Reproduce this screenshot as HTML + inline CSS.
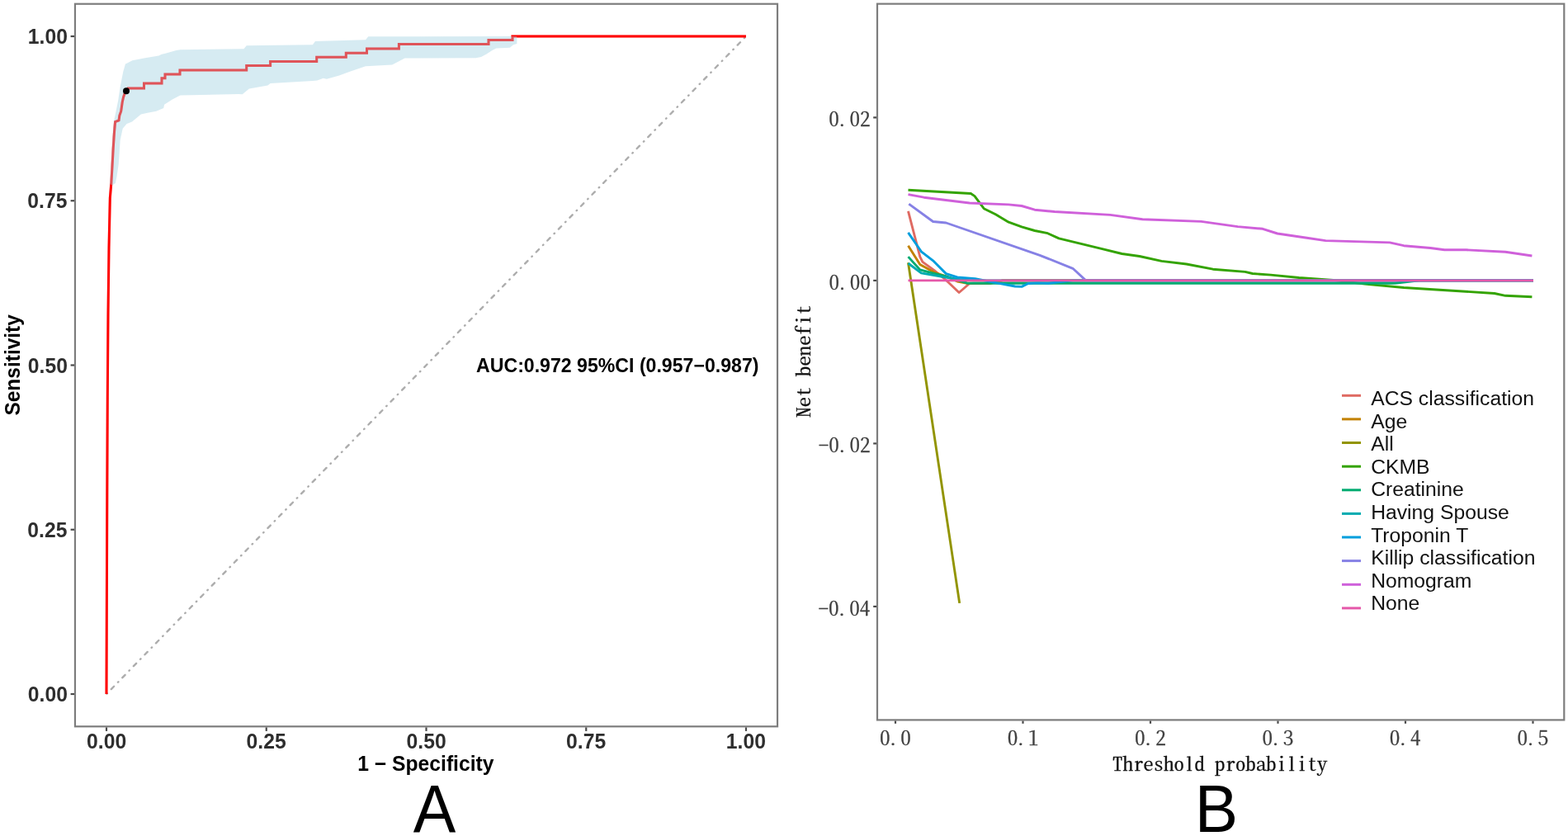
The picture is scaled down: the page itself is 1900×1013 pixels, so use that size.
<!DOCTYPE html><html><head><meta charset="utf-8"><title>ROC and decision curve</title><style>html,body{margin:0;padding:0;background:#fff;overflow:hidden;}svg{display:block;}</style></head><body>
<svg width="1900" height="1013" viewBox="0 0 1900 1013">
<rect x="0" y="0" width="1900" height="1013" fill="#fff"/>
<line x1="129.0" y1="841.0" x2="904.0" y2="44.0" stroke="#adadad" stroke-width="2.4" stroke-linecap="round" stroke-dasharray="0.6 7.08 4.67 7.09" stroke-dashoffset="-0.585"/>
<polyline points="129.0,841.0 129.4,720.0 129.8,600.0 130.3,480.0 131.0,380.0 132.0,300.0 133.3,240.0 134.8,222.5 136.0,202.0 137.2,180.0 138.5,160.0 139.6,147.5 144.0,146.0 144.8,140.0 146.7,134.7 148.2,124.0 149.5,118.0 151.0,113.5 153.0,110.3 155.0,107.0 174.5,107.0 174.5,101.0 196.0,101.0 196.0,94.7 200.0,94.7 200.0,89.9 218.0,89.9 218.0,85.0 298.7,85.0 298.7,79.6 327.6,79.6 327.6,74.6 383.7,74.6 383.7,69.2 419.3,69.2 419.3,64.2 444.5,64.2 444.5,58.9 483.4,58.9 483.4,53.4 592.0,53.4 592.0,48.6 621.0,48.6 621.0,44.0 904.0,44.0" fill="none" stroke="#ff0000" stroke-width="3" stroke-linejoin="miter"/>
<polygon points="133.0,223.0 134.2,202.0 135.4,180.0 136.7,160.0 137.9,147.5 140.5,135.0 143.1,122.2 145.8,104.4 149.3,86.7 152.0,77.5 154.2,76.5 160.4,73.3 167.0,72.0 174.6,70.6 192.4,67.5 196.0,65.8 199.5,65.0 213.7,60.9 218.4,60.2 295.5,59.3 298.7,55.3 378.9,54.2 382.0,50.0 443.0,48.2 446.3,44.3 626.4,44.0 626.4,44.0 626.4,53.0 622.0,54.2 617.8,57.7 601.3,58.6 596.0,61.2 589.5,65.5 583.0,69.0 576.5,70.3 490.5,70.5 475.2,78.5 443.0,80.3 423.9,86.7 411.0,91.5 395.8,95.8 391.8,94.7 384.3,97.5 378.9,97.9 327.6,101.1 324.4,103.4 301.9,107.5 293.7,114.2 289.0,114.0 218.4,115.6 208.8,120.4 199.1,126.8 198.2,131.1 189.3,134.7 178.7,136.8 170.8,138.5 160.0,147.5 153.6,149.9 148.7,155.8 145.7,169.6 143.7,199.0 141.5,214.0 139.8,222.0 136.0,224.5" fill="#add8e6" fill-opacity="0.5" stroke="none"/>
<polyline points="129.0,841.0 129.4,720.0 129.8,600.0 130.3,480.0 131.0,380.0 132.0,300.0 133.3,240.0 134.8,222.5 136.0,202.0 137.2,180.0 138.5,160.0 139.6,147.5 144.0,146.0 144.8,140.0 146.7,134.7 148.2,124.0 149.5,118.0 151.0,113.5 153.0,110.3 155.0,107.0 174.5,107.0 174.5,101.0 196.0,101.0 196.0,94.7 200.0,94.7 200.0,89.9 218.0,89.9 218.0,85.0 298.7,85.0 298.7,79.6 327.6,79.6 327.6,74.6 383.7,74.6 383.7,69.2 419.3,69.2 419.3,64.2 444.5,64.2 444.5,58.9 483.4,58.9 483.4,53.4 592.0,53.4 592.0,48.6 621.0,48.6 621.0,44.0 904.0,44.0" fill="none" stroke="#ff0000" stroke-opacity="0.22" stroke-width="3" stroke-linejoin="miter"/>
<circle cx="153" cy="110.3" r="4" fill="#000"/>
<rect x="90.95" y="4.74" width="851.10" height="875.56" fill="none" stroke="#7d7d7d" stroke-width="2.2"/>
<line x1="85.6" y1="841.00" x2="90" y2="841.00" stroke="#4a4a4a" stroke-width="2.2"/>
<line x1="129.00" y1="881.4" x2="129.00" y2="885.9" stroke="#4a4a4a" stroke-width="2.2"/>
<line x1="85.6" y1="641.75" x2="90" y2="641.75" stroke="#4a4a4a" stroke-width="2.2"/>
<line x1="322.75" y1="881.4" x2="322.75" y2="885.9" stroke="#4a4a4a" stroke-width="2.2"/>
<line x1="85.6" y1="442.50" x2="90" y2="442.50" stroke="#4a4a4a" stroke-width="2.2"/>
<line x1="516.50" y1="881.4" x2="516.50" y2="885.9" stroke="#4a4a4a" stroke-width="2.2"/>
<line x1="85.6" y1="243.25" x2="90" y2="243.25" stroke="#4a4a4a" stroke-width="2.2"/>
<line x1="710.25" y1="881.4" x2="710.25" y2="885.9" stroke="#4a4a4a" stroke-width="2.2"/>
<line x1="85.6" y1="44.00" x2="90" y2="44.00" stroke="#4a4a4a" stroke-width="2.2"/>
<line x1="904.00" y1="881.4" x2="904.00" y2="885.9" stroke="#4a4a4a" stroke-width="2.2"/>
<polyline points="1100.5,255.8 1114.8,311.1 1117.9,317.4 1132.1,327.7 1146.4,339.5 1162.1,354.5 1174.8,343.5 1200.0,343.3 1215.0,339.9 1858.0,339.9" fill="none" stroke="#df6a62" stroke-width="2.9" stroke-linejoin="round"/>
<polyline points="1100.5,297.7 1114.8,320.6 1132.1,330.0 1146.4,334.8 1160.0,341.0 1172.0,343.2 1200.0,343.2 1215.0,339.9 1858.0,339.9" fill="none" stroke="#c28100" stroke-width="2.9" stroke-linejoin="round"/>
<polyline points="1100.5,318.2 1162.7,730.9" fill="none" stroke="#929400" stroke-width="2.9" stroke-linejoin="round"/>
<polyline points="1100.5,230.2 1176.4,234.5 1181.0,237.6 1192.2,252.7 1206.4,259.8 1222.2,269.2 1238.0,274.8 1253.8,279.5 1269.6,282.7 1283.1,288.9 1334.6,301.3 1359.5,307.5 1380.8,310.5 1407.5,316.4 1437.7,320.0 1469.7,326.2 1508.8,329.4 1517.7,331.5 1540.0,333.1 1574.1,336.5 1615.8,339.4 1653.7,344.1 1701.0,348.5 1810.9,355.5 1824.2,358.3 1856.4,359.8" fill="none" stroke="#33a300" stroke-width="2.9" stroke-linejoin="round"/>
<polyline points="1100.5,311.1 1114.8,326.9 1130.0,331.0 1146.4,335.0 1172.0,343.2 1690.0,343.3 1720.0,339.9 1858.0,339.9" fill="none" stroke="#00ab70" stroke-width="2.9" stroke-linejoin="round"/>
<polyline points="1100.5,319.0 1116.3,330.9 1143.2,335.6 1165.0,339.0 1180.0,339.9 1858.0,339.9" fill="none" stroke="#00abb0" stroke-width="2.9" stroke-linejoin="round"/>
<polyline points="1100.5,281.9 1116.3,304.8 1130.6,315.8 1146.4,331.6 1160.0,336.0 1181.6,337.7 1206.8,342.7 1230.0,347.0 1238.0,347.4 1245.9,343.5 1256.8,342.9 1270.0,343.3 1300.0,339.9 1858.0,339.9" fill="none" stroke="#009edd" stroke-width="2.9" stroke-linejoin="round"/>
<polyline points="1101.3,247.1 1130.6,268.5 1146.4,270.0 1260.0,309.3 1300.0,325.3 1315.8,339.9 1858.0,339.9" fill="none" stroke="#8681e5" stroke-width="2.9" stroke-linejoin="round"/>
<polyline points="1100.5,235.6 1119.5,239.2 1174.8,246.0 1222.2,247.9 1238.0,249.5 1253.8,254.2 1277.8,256.5 1345.3,260.4 1384.4,265.8 1455.5,268.4 1499.9,274.6 1530.1,277.3 1547.9,283.0 1583.6,288.2 1606.3,291.6 1684.0,293.9 1701.0,297.7 1733.3,300.5 1750.3,302.8 1776.8,302.8 1824.2,305.3 1856.4,310.0" fill="none" stroke="#cf60da" stroke-width="2.9" stroke-linejoin="round"/>
<polyline points="1100.5,339.9 1858.0,339.9" fill="none" stroke="#e558a9" stroke-width="2.9" stroke-linejoin="round"/>
<rect x="1063.0" y="4.65" width="832.30" height="867.75" fill="none" stroke="#7d7d7d" stroke-width="2.2"/>
<line x1="1058.2" y1="142.40" x2="1062" y2="142.40" stroke="#4a4a4a" stroke-width="2.2"/>
<line x1="1058.2" y1="339.90" x2="1062" y2="339.90" stroke="#4a4a4a" stroke-width="2.2"/>
<line x1="1058.2" y1="537.40" x2="1062" y2="537.40" stroke="#4a4a4a" stroke-width="2.2"/>
<line x1="1058.2" y1="734.90" x2="1062" y2="734.90" stroke="#4a4a4a" stroke-width="2.2"/>
<line x1="1085.00" y1="873.5" x2="1085.00" y2="876.8" stroke="#4a4a4a" stroke-width="2.2"/>
<line x1="1239.50" y1="873.5" x2="1239.50" y2="876.8" stroke="#4a4a4a" stroke-width="2.2"/>
<line x1="1394.00" y1="873.5" x2="1394.00" y2="876.8" stroke="#4a4a4a" stroke-width="2.2"/>
<line x1="1548.50" y1="873.5" x2="1548.50" y2="876.8" stroke="#4a4a4a" stroke-width="2.2"/>
<line x1="1703.00" y1="873.5" x2="1703.00" y2="876.8" stroke="#4a4a4a" stroke-width="2.2"/>
<line x1="1857.50" y1="873.5" x2="1857.50" y2="876.8" stroke="#4a4a4a" stroke-width="2.2"/>
<line x1="1626" y1="479.3" x2="1649" y2="479.3" stroke="#df6a62" stroke-width="3"/>
<line x1="1626" y1="507.9" x2="1649" y2="507.9" stroke="#c28100" stroke-width="3"/>
<line x1="1626" y1="536.5" x2="1649" y2="536.5" stroke="#929400" stroke-width="3"/>
<line x1="1626" y1="565.2" x2="1649" y2="565.2" stroke="#33a300" stroke-width="3"/>
<line x1="1626" y1="593.8" x2="1649" y2="593.8" stroke="#00ab70" stroke-width="3"/>
<line x1="1626" y1="622.4" x2="1649" y2="622.4" stroke="#00abb0" stroke-width="3"/>
<line x1="1626" y1="651.0" x2="1649" y2="651.0" stroke="#009edd" stroke-width="3"/>
<line x1="1626" y1="679.6" x2="1649" y2="679.6" stroke="#8681e5" stroke-width="3"/>
<line x1="1626" y1="708.3" x2="1649" y2="708.3" stroke="#cf60da" stroke-width="3"/>
<line x1="1626" y1="736.9" x2="1649" y2="736.9" stroke="#e558a9" stroke-width="3"/>
<text transform="translate(33.86,850.15) scale(0.9650,1)" style="font-family:'Liberation Sans', Arial, sans-serif;font-size:25.57px;font-weight:bold;font-variant-ligatures:none;" fill="#2e2e2e">0.00</text>
<text transform="translate(33.37,650.90) scale(0.9650,1)" style="font-family:'Liberation Sans', Arial, sans-serif;font-size:25.57px;font-weight:bold;font-variant-ligatures:none;" fill="#2e2e2e">0.25</text>
<text transform="translate(33.86,451.65) scale(0.9650,1)" style="font-family:'Liberation Sans', Arial, sans-serif;font-size:25.57px;font-weight:bold;font-variant-ligatures:none;" fill="#2e2e2e">0.50</text>
<text transform="translate(33.37,252.40) scale(0.9650,1)" style="font-family:'Liberation Sans', Arial, sans-serif;font-size:25.57px;font-weight:bold;font-variant-ligatures:none;" fill="#2e2e2e">0.75</text>
<text transform="translate(33.86,53.15) scale(0.9650,1)" style="font-family:'Liberation Sans', Arial, sans-serif;font-size:25.57px;font-weight:bold;font-variant-ligatures:none;" fill="#2e2e2e">1.00</text>
<text transform="translate(105.01,907.15) scale(0.9618,1)" style="font-family:'Liberation Sans', Arial, sans-serif;font-size:25.71px;font-weight:bold;font-variant-ligatures:none;" fill="#2e2e2e">0.00</text>
<text transform="translate(298.51,907.15) scale(0.9618,1)" style="font-family:'Liberation Sans', Arial, sans-serif;font-size:25.71px;font-weight:bold;font-variant-ligatures:none;" fill="#2e2e2e">0.25</text>
<text transform="translate(492.51,907.15) scale(0.9618,1)" style="font-family:'Liberation Sans', Arial, sans-serif;font-size:25.71px;font-weight:bold;font-variant-ligatures:none;" fill="#2e2e2e">0.50</text>
<text transform="translate(686.01,907.15) scale(0.9618,1)" style="font-family:'Liberation Sans', Arial, sans-serif;font-size:25.71px;font-weight:bold;font-variant-ligatures:none;" fill="#2e2e2e">0.75</text>
<text transform="translate(879.76,907.15) scale(0.9618,1)" style="font-family:'Liberation Sans', Arial, sans-serif;font-size:25.71px;font-weight:bold;font-variant-ligatures:none;" fill="#2e2e2e">1.00</text>
<text transform="translate(433.27,934.45) scale(0.9785,1)" style="font-family:'Liberation Sans', Arial, sans-serif;font-size:25.22px;font-weight:bold;font-variant-ligatures:none;" fill="#000">1 − Specificity</text>
<text transform="translate(23.85,503.58) rotate(-90) scale(0.9688,1)" style="font-family:'Liberation Sans', Arial, sans-serif;font-size:25.29px;font-weight:bold;font-variant-ligatures:none;" fill="#000">Sensitivity</text>
<text transform="translate(577.06,450.55) scale(0.9910,1)" style="font-family:'Liberation Sans', Arial, sans-serif;font-size:23.33px;font-weight:bold;font-variant-ligatures:none;" fill="#000">AUC:0.972 95%CI (0.957−0.987)</text>
<text transform="translate(500.75,1007.85) scale(0.9504,1)" style="font-family:'Liberation Sans', Arial, sans-serif;font-size:81.30px;font-weight:normal;font-variant-ligatures:none;" fill="#000">A</text>
<text transform="translate(1447.87,1007.75) scale(0.9671,1)" style="font-family:'Liberation Sans', Arial, sans-serif;font-size:81.16px;font-weight:normal;font-variant-ligatures:none;" fill="#000">B</text>
<text transform="translate(1004.24,153.15) scale(1.0864,1)" style="font-family:'Noto Serif CJK SC', 'Liberation Serif', serif;font-size:23.16px;font-weight:normal;font-variant-ligatures:none;font-feature-settings:'hwid' 1, 'liga' 0;" fill="#404040" stroke="#404040" stroke-width="0.3">0<tspan dx="-2.6">.</tspan><tspan dx="2.6">02</tspan></text>
<text transform="translate(1004.49,350.65) scale(1.0864,1)" style="font-family:'Noto Serif CJK SC', 'Liberation Serif', serif;font-size:23.16px;font-weight:normal;font-variant-ligatures:none;font-feature-settings:'hwid' 1, 'liga' 0;" fill="#404040" stroke="#404040" stroke-width="0.3">0<tspan dx="-2.6">.</tspan><tspan dx="2.6">00</tspan></text>
<text transform="translate(991.66,548.15) scale(1.0864,1)" style="font-family:'Noto Serif CJK SC', 'Liberation Serif', serif;font-size:23.16px;font-weight:normal;font-variant-ligatures:none;font-feature-settings:'hwid' 1, 'liga' 0;" fill="#404040" stroke="#404040" stroke-width="0.3">-0<tspan dx="-2.6">.</tspan><tspan dx="2.6">02</tspan></text>
<text transform="translate(991.41,745.65) scale(1.0864,1)" style="font-family:'Noto Serif CJK SC', 'Liberation Serif', serif;font-size:23.16px;font-weight:normal;font-variant-ligatures:none;font-feature-settings:'hwid' 1, 'liga' 0;" fill="#404040" stroke="#404040" stroke-width="0.3">-0<tspan dx="-2.6">.</tspan><tspan dx="2.6">04</tspan></text>
<text transform="translate(1066.09,902.95) scale(1.0888,1)" style="font-family:'Noto Serif CJK SC', 'Liberation Serif', serif;font-size:23.16px;font-weight:normal;font-variant-ligatures:none;font-feature-settings:'hwid' 1, 'liga' 0;" fill="#404040" stroke="#404040" stroke-width="0.3">0<tspan dx="-2.6">.</tspan><tspan dx="2.6">0</tspan></text>
<text transform="translate(1220.72,902.95) scale(1.0888,1)" style="font-family:'Noto Serif CJK SC', 'Liberation Serif', serif;font-size:23.16px;font-weight:normal;font-variant-ligatures:none;font-feature-settings:'hwid' 1, 'liga' 0;" fill="#404040" stroke="#404040" stroke-width="0.3">0<tspan dx="-2.6">.</tspan><tspan dx="2.6">1</tspan></text>
<text transform="translate(1374.96,902.95) scale(1.0888,1)" style="font-family:'Noto Serif CJK SC', 'Liberation Serif', serif;font-size:23.16px;font-weight:normal;font-variant-ligatures:none;font-feature-settings:'hwid' 1, 'liga' 0;" fill="#404040" stroke="#404040" stroke-width="0.3">0<tspan dx="-2.6">.</tspan><tspan dx="2.6">2</tspan></text>
<text transform="translate(1529.46,902.95) scale(1.0888,1)" style="font-family:'Noto Serif CJK SC', 'Liberation Serif', serif;font-size:23.16px;font-weight:normal;font-variant-ligatures:none;font-feature-settings:'hwid' 1, 'liga' 0;" fill="#404040" stroke="#404040" stroke-width="0.3">0<tspan dx="-2.6">.</tspan><tspan dx="2.6">3</tspan></text>
<text transform="translate(1683.84,902.95) scale(1.0888,1)" style="font-family:'Noto Serif CJK SC', 'Liberation Serif', serif;font-size:23.16px;font-weight:normal;font-variant-ligatures:none;font-feature-settings:'hwid' 1, 'liga' 0;" fill="#404040" stroke="#404040" stroke-width="0.3">0<tspan dx="-2.6">.</tspan><tspan dx="2.6">4</tspan></text>
<text transform="translate(1838.59,902.95) scale(1.0888,1)" style="font-family:'Noto Serif CJK SC', 'Liberation Serif', serif;font-size:23.16px;font-weight:normal;font-variant-ligatures:none;font-feature-settings:'hwid' 1, 'liga' 0;" fill="#404040" stroke="#404040" stroke-width="0.3">0<tspan dx="-2.6">.</tspan><tspan dx="2.6">5</tspan></text>
<text transform="translate(1348.11,933.55) scale(1.1345,1)" style="font-family:'Noto Serif CJK SC', 'Liberation Serif', serif;font-size:21.87px;font-weight:normal;font-variant-ligatures:none;font-feature-settings:'hwid' 1, 'liga' 0;" fill="#111" stroke="#111" stroke-width="0.3">Threshold probability</text>
<text transform="translate(981.85,505.85) rotate(-90) scale(1.0944,1)" style="font-family:'Noto Serif CJK SC', 'Liberation Serif', serif;font-size:22.67px;font-weight:normal;font-variant-ligatures:none;font-feature-settings:'hwid' 1, 'liga' 0;" fill="#111" stroke="#111" stroke-width="0.3">Net benefit</text>
<text transform="translate(1661.15,491.35) scale(1.0159,1)" style="font-family:'Liberation Sans', Arial, sans-serif;font-size:24.35px;font-weight:normal;font-variant-ligatures:none;" fill="#111">ACS classification</text>
<text transform="translate(1661.15,518.88) scale(1.0159,1)" style="font-family:'Liberation Sans', Arial, sans-serif;font-size:24.35px;font-weight:normal;font-variant-ligatures:none;" fill="#111">Age</text>
<text transform="translate(1661.15,546.41) scale(1.0159,1)" style="font-family:'Liberation Sans', Arial, sans-serif;font-size:24.35px;font-weight:normal;font-variant-ligatures:none;" fill="#111">All</text>
<text transform="translate(1661.15,573.94) scale(1.0159,1)" style="font-family:'Liberation Sans', Arial, sans-serif;font-size:24.35px;font-weight:normal;font-variant-ligatures:none;" fill="#111">CKMB</text>
<text transform="translate(1661.15,601.47) scale(1.0159,1)" style="font-family:'Liberation Sans', Arial, sans-serif;font-size:24.35px;font-weight:normal;font-variant-ligatures:none;" fill="#111">Creatinine</text>
<text transform="translate(1661.15,629.00) scale(1.0159,1)" style="font-family:'Liberation Sans', Arial, sans-serif;font-size:24.35px;font-weight:normal;font-variant-ligatures:none;" fill="#111">Having Spouse</text>
<text transform="translate(1661.15,656.53) scale(1.0159,1)" style="font-family:'Liberation Sans', Arial, sans-serif;font-size:24.35px;font-weight:normal;font-variant-ligatures:none;" fill="#111">Troponin T</text>
<text transform="translate(1661.15,684.06) scale(1.0159,1)" style="font-family:'Liberation Sans', Arial, sans-serif;font-size:24.35px;font-weight:normal;font-variant-ligatures:none;" fill="#111">Killip classification</text>
<text transform="translate(1661.15,711.59) scale(1.0159,1)" style="font-family:'Liberation Sans', Arial, sans-serif;font-size:24.35px;font-weight:normal;font-variant-ligatures:none;" fill="#111">Nomogram</text>
<text transform="translate(1661.15,739.12) scale(1.0159,1)" style="font-family:'Liberation Sans', Arial, sans-serif;font-size:24.35px;font-weight:normal;font-variant-ligatures:none;" fill="#111">None</text>
</svg></body></html>
